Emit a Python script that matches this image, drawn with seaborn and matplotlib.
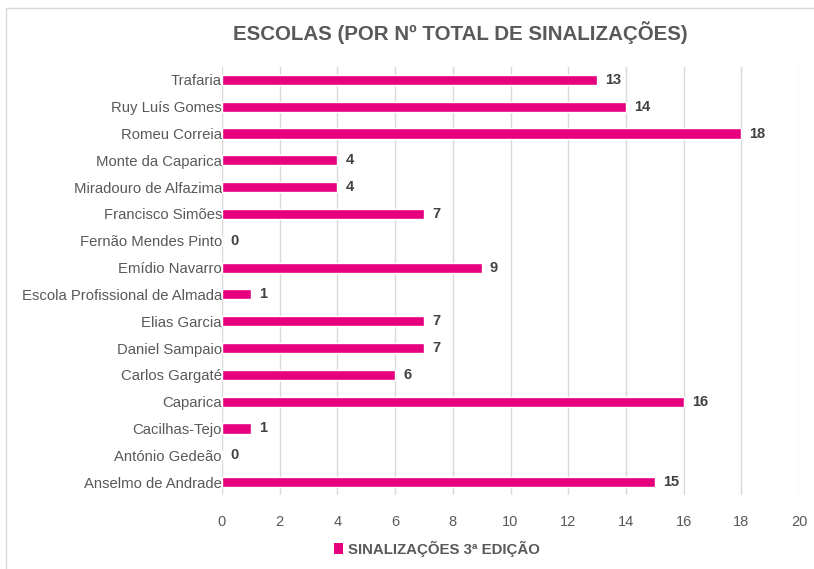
import pandas as pd
import matplotlib.pyplot as plt
import seaborn as sns
from matplotlib.patches import Rectangle, Patch

# Data (top to bottom as in the chart)
escolas = ['Trafaria', 'Ruy Luís Gomes', 'Romeu Correia', 'Monte da Caparica',
           'Miradouro de Alfazima', 'Francisco Simões', 'Fernão Mendes Pinto',
           'Emídio Navarro', 'Escola Profissional de Almada', 'Elias Garcia',
           'Daniel Sampaio', 'Carlos Gargaté', 'Caparica', 'Cacilhas-Tejo',
           'António Gedeão', 'Anselmo de Andrade']
sinalizacoes = [13, 14, 18, 4, 4, 7, 0, 9, 1, 7, 7, 6, 16, 1, 0, 15]
x_ticks = [0, 2, 4, 6, 8, 10, 12, 14, 16, 18, 20]

df = pd.DataFrame({'escola': escolas, 'total': sinalizacoes})

sns.set_theme(style="white")
plt.rcParams['font.family'] = ['Liberation Sans', 'DejaVu Sans']

bar_color = '#E6007E'
text_gray = '#595959'

fig = plt.figure(figsize=(8.14, 5.69), dpi=100)
ax = fig.add_axes([0.2727, 0.1293, 0.7089, 0.7537])

sns.barplot(data=df, y='escola', x='total', color=bar_color, width=0.38,
            orient='h', ax=ax, saturation=1)

ax.set_xlim(0, 20)
ax.set_xticks(x_ticks)
ax.xaxis.grid(True, color='#D9D9D9', linewidth=1)
ax.set_axisbelow(True)
for s in ax.spines.values():
    s.set_visible(False)
ax.set_xlabel('')
ax.set_ylabel('')
ax.tick_params(axis='x', labelsize=10.5, colors=text_gray, length=0, pad=14)
ax.tick_params(axis='y', labelsize=10.7, colors=text_gray, length=0, pad=0)

for i, v in enumerate(sinalizacoes):
    ax.text(v + 0.28, i, str(v), va='center', ha='left', fontsize=10.5,
            fontweight='bold', color='#404040')

fig.text(0.565, 0.942, 'ESCOLAS (POR Nº TOTAL DE SINALIZAÇÕES)', ha='center',
         va='center', fontsize=14.8, fontweight='bold', color=text_gray)

handle = Patch(facecolor=bar_color, edgecolor='none')
fig.legend([handle], ['SINALIZAÇÕES 3ª EDIÇÃO'], loc='center',
           bbox_to_anchor=(0.537, 0.036), frameon=False,
           handlelength=0.6, handleheight=0.8, handletextpad=0.3,
           labelcolor=text_gray, prop={'weight': 'bold', 'size': 10.8})

fig.patches.append(Rectangle((0.007, -0.01), 1.0, 0.996, transform=fig.transFigure,
                             fill=False, edgecolor='#D9D9D9', linewidth=1))

fig.savefig('out.png', dpi=100, facecolor='white')
